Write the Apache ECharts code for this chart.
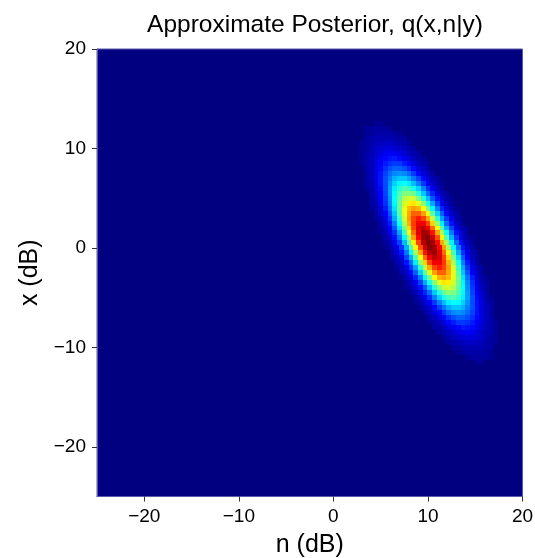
<!DOCTYPE html>
<html>
<head>
<meta charset="utf-8">
<script src="https://cdn.jsdelivr.net/npm/echarts@6/dist/echarts.min.js"></script>
<style>
html,body{margin:0;padding:0;background:#ffffff;}
#chart{width:535px;height:558px;}
</style>
</head>
<body>
<div id="chart"></div>
<script>
// ---- data ----
const titleText = 'Approximate Posterior, q(x,n|y)';
const nAxisName = 'n (dB)';
const xAxisName = 'x (dB)';
const nRange = [-25, 20];
const xRange = [-25, 20];
const nTicks = [-20, -10, 0, 10, 20];
const xTicks = [-20, -10, 0, 10, 20];
const cellStep = 0.5; // grid resolution of the density image (dB)

// row centre x (dB)
const rowX = [12.5, 12, 11.5, 11, 10.5, 10, 9.5, 9, 8.5, 8, 7.5, 7, 6.5, 6, 5.5, 5, 4.5, 4, 3.5, 3, 2.5, 2, 1.5, 1, 0.5,
  0, -0.5, -1, -1.5, -2, -2.5, -3, -3.5, -4, -4.5, -5, -5.5, -6, -6.5, -7, -7.5, -8, -8.5, -9, -9.5, -10, -10.5, -11, -11.5];
// n (dB) of the first cell of each row
const rowNStart = [4.5, 3.5, 3.5, 3.5, 3.0, 3.0, 3.0, 3.0, 3.0, 3.5, 3.5, 3.5, 3.5, 3.5, 4.0, 4.0, 4.0, 4.0, 4.5, 4.5, 5.0, 5.0, 5.0, 5.5, 5.5,
  5.7, 6.2, 6.2, 6.7, 6.7, 7.2, 7.2, 7.7, 7.7, 8.2, 8.7, 8.7, 9.2, 9.7, 10.2, 10.2, 10.7, 11.2, 11.7, 12.2, 12.7, 13.2, 14.2, 15.2];
// relative density q(x,n|y), percent of peak
const rowDensity = [
  [2,2],
  [2,3,3,3,3,2],
  [2,3,4,4,4,4,3,2],
  [3,4,5,5,5,5,4,3,3],
  [2,3,4,6,6,7,7,6,5,4,3],
  [2,3,5,7,8,9,9,8,7,6,4,3],
  [2,4,5,7,9,11,12,11,10,8,6,4,3],
  [2,4,6,8,11,13,14,15,13,11,9,6,4,3],
  [2,4,6,9,12,15,17,18,18,15,13,9,6,4,2],
  [4,6,9,13,17,20,22,22,20,17,13,9,6,4],
  [3,6,9,14,19,23,26,27,26,23,18,13,9,6,3],
  [3,6,9,14,20,25,30,32,32,29,24,19,13,8,5,3],
  [3,5,9,14,20,27,33,37,38,36,31,25,18,12,7,4,2],
  [2,4,8,13,20,28,36,42,45,44,39,33,25,17,11,6,3],
  [4,7,12,19,28,37,45,50,51,48,41,32,23,16,9,5,3],
  [3,6,11,18,27,38,47,55,58,57,51,41,31,21,14,8,4,2],
  [3,5,10,17,26,37,48,58,64,65,60,51,40,29,19,11,6,3],
  [2,4,8,15,24,35,48,60,69,72,70,62,50,37,25,16,9,5,2],
  [3,7,12,21,32,46,60,71,78,78,72,60,47,33,22,13,7,4],
  [3,5,10,18,29,43,58,72,81,85,81,71,57,42,28,18,10,5,2],
  [4,8,15,25,39,54,70,82,89,89,81,67,52,36,23,14,7,4],
  [3,6,12,21,34,49,66,81,91,94,89,77,62,45,30,19,10,5,3],
  [2,5,10,17,29,44,61,77,90,97,95,86,71,54,38,24,14,8,4],
  [4,7,14,24,37,54,72,87,97,99,93,80,63,46,30,18,10,5,2],
  [3,5,11,19,31,47,64,81,94,100,97,87,71,54,37,23,14,7,4],
  [2,5,10,18,30,46,63,80,93,99,97,87,72,54,37,24,14,7,4],
  [4,8,14,24,38,54,71,86,95,97,90,77,61,44,29,17,10,5,2],
  [3,5,10,19,30,45,62,77,89,94,91,81,66,49,34,21,12,6,3],
  [4,7,14,23,36,52,67,81,89,89,82,70,54,39,25,15,8,4],
  [2,5,10,18,28,42,57,71,81,85,81,72,58,43,29,18,10,5,3],
  [4,7,13,22,33,47,60,72,78,78,71,60,46,32,21,12,7,3],
  [2,5,9,16,25,37,50,62,70,72,69,60,48,35,24,15,8,4,2],
  [3,6,11,19,29,40,51,60,65,64,58,48,37,26,17,10,5,3],
  [2,4,8,14,21,31,41,51,57,58,55,47,38,27,18,11,6,3],
  [3,5,9,16,23,32,41,48,51,50,45,37,28,19,12,7,4],
  [3,6,11,17,25,33,39,44,45,42,36,28,20,13,8,4,2],
  [2,4,7,12,18,25,31,36,38,37,33,27,20,14,9,5,3],
  [3,5,8,13,19,24,29,32,32,30,25,20,14,9,6,3],
  [3,6,9,13,18,23,26,27,26,23,19,14,9,6,3],
  [4,6,9,13,17,20,22,22,20,17,13,9,6,4],
  [2,4,6,9,13,15,18,18,17,15,12,9,6,4,2],
  [3,4,6,9,11,13,15,14,13,11,8,6,4,2],
  [3,4,6,8,10,11,12,11,9,7,5,4,2],
  [3,4,6,7,8,9,9,8,7,5,3,2],
  [3,4,5,6,7,7,6,6,4,3,2],
  [3,3,4,5,5,5,5,4,3],
  [2,3,4,4,4,4,3,2],
  [2,3,3,3,3,2],
  [2,2]
];

// ---- build cells ----
const cells = [];
rowX.forEach(function (x, i) {
  rowDensity[i].forEach(function (v, j) {
    cells.push([rowNStart[i] + j * cellStep, x, v / 100]);
  });
});

const jet = ['#000080', '#0000ff', '#007fff', '#00ffff', '#7fff7f', '#ffff00', '#ff7f00', '#ff0000', '#7f0000'];
const FONT = '"Liberation Sans", Arial, Helvetica, sans-serif';
function fmt(v) { return v < 0 ? '\u2212' + (-v) : String(v); }

const chart = echarts.init(document.getElementById('chart'), null, { renderer: 'canvas' });
const half = cellStep / 2;

chart.setOption({
  animation: false,
  backgroundColor: '#ffffff',
  title: {
    text: titleText,
    left: 310,
    top: 8,
    textAlign: 'center',
    textStyle: { fontFamily: FONT, fontSize: 24.5, fontWeight: 'normal', color: '#000' }
  },
  grid: {
    left: 97, right: 12.5, top: 49, bottom: 61.5,
    containLabel: false, outerBoundsMode: 'none',
    show: true, backgroundColor: '#000080', borderWidth: 1, borderColor: '#5a5aa8'
  },
  visualMap: {
    show: false, type: 'continuous', min: 0, max: 1, dimension: 2,
    inRange: { color: jet }
  },
  xAxis: {
    type: 'value', min: nRange[0], max: nRange[1],
    name: nAxisName, nameLocation: 'middle', nameGap: 36,
    nameTextStyle: { fontFamily: FONT, fontSize: 25, color: '#000' },
    axisLine: { show: true, onZero: false, lineStyle: { color: '#5a5aa8', width: 1 } },
    axisTick: { show: true, inside: false, length: 5, customValues: nTicks, lineStyle: { color: '#333' } },
    axisLabel: { customValues: nTicks, formatter: fmt, margin: 11, fontFamily: FONT, fontSize: 19, color: '#000' },
    splitLine: { show: false }
  },
  yAxis: {
    type: 'value', min: xRange[0], max: xRange[1],
    name: xAxisName, nameLocation: 'middle', nameGap: 47, nameRotate: 90,
    nameTextStyle: { fontFamily: FONT, fontSize: 25, color: '#000' },
    axisLine: { show: true, onZero: false, lineStyle: { color: '#5a5aa8', width: 1 } },
    axisTick: { show: true, inside: false, length: 5, customValues: xTicks, lineStyle: { color: '#333' } },
    axisLabel: { customValues: xTicks, formatter: fmt, margin: 11, fontFamily: FONT, fontSize: 19, color: '#000' },
    splitLine: { show: false }
  },
  series: [{
    type: 'custom',
    clip: true,
    encode: { x: 0, y: 1 },
    data: cells,
    renderItem: function (params, api) {
      const n = api.value(0), x = api.value(1);
      const a = api.coord([n - half, x + half]);
      const b = api.coord([n + half, x - half]);
      const x0 = Math.round(a[0]), y0 = Math.round(a[1]);
      const x1 = Math.round(b[0]), y1 = Math.round(b[1]);
      return {
        type: 'rect',
        shape: { x: x0, y: y0, width: x1 - x0, height: y1 - y0 },
        style: { fill: api.visual('color') }
      };
    }
  }]
});
</script>
</body>
</html>
